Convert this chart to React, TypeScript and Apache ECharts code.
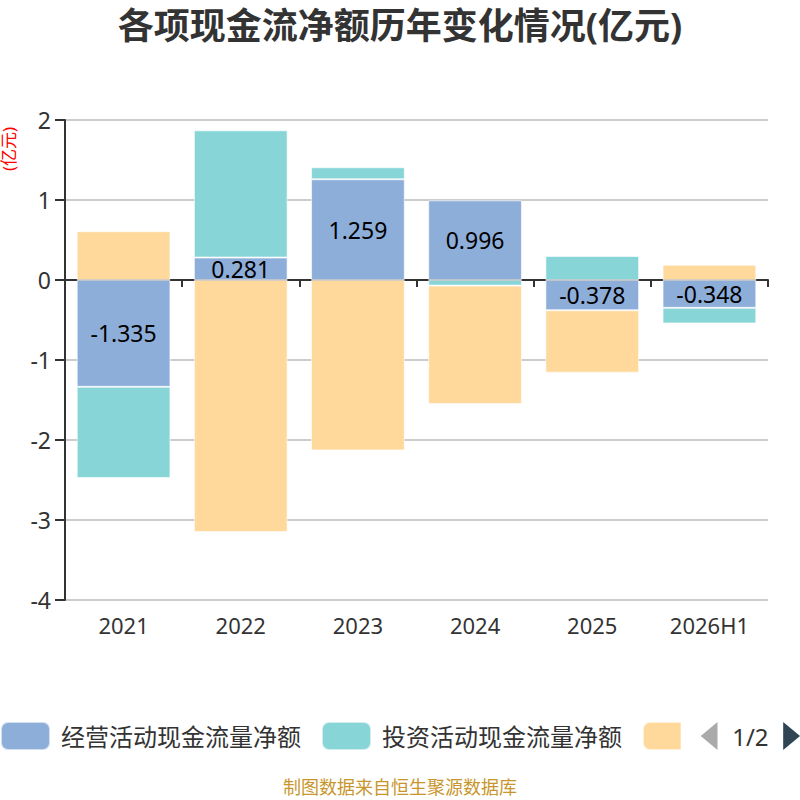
import React, { useEffect, useRef } from "react";
import * as echarts from "echarts";

const categories = ["2021", "2022", "2023", "2024", "2025", "2026H1"];
const seriesNames = ["经营活动现金流量净额", "投资活动现金流量净额", "筹资活动现金流量净额"];
const operating = [-1.335, 0.281, 1.259, 0.996, -0.378, -0.348];
const investing = [-1.14, 1.59, 0.15, -0.07, 0.3, -0.195];
const financing = [0.61, -3.15, -2.13, -1.48, -0.78, 0.19];
const colors = ["#8EAEDA", "#88D5D8", "#FED99B"];

const FONT = "'Noto Sans', 'Noto Sans CJK SC', sans-serif";

export default function App() {
  const ref = useRef<HTMLDivElement>(null);
  useEffect(() => {
    document.body.style.margin = "0";
    if (!ref.current) return;
    const chart = echarts.init(ref.current, undefined, { renderer: "svg" });
    const data = [operating, investing, financing];
    chart.setOption({
      animation: false,
      color: colors,
      textStyle: { fontFamily: FONT },
      title: {
        text: "各项现金流净额历年变化情况(亿元)",
        left: "center",
        top: 2,
        textStyle: { fontSize: 36, fontWeight: "bold", color: "#333", fontFamily: FONT },
      },
      grid: { left: 65, right: 32, top: 120, bottom: 200 },
      legend: {
        type: "scroll",
        top: 721,
        left: 0,
        right: 3,
        padding: 0,
        itemWidth: 49,
        itemHeight: 28,
        itemGap: 20,
        icon: "roundRect",
        textStyle: { fontSize: 24, color: "#333", fontFamily: FONT, padding: [0, 0, 0, 6] },
        pageIconSize: [17, 28],
        pageIconColor: "#2f4554",
        pageIconInactiveColor: "#aaa",
        pageButtonItemGap: 3,
        pageButtonGap: 20,
        pageTextStyle: { fontSize: 24, color: "#333", fontFamily: FONT },
        data: seriesNames,
      },
      xAxis: {
        type: "category",
        data: categories,
        axisLine: { lineStyle: { color: "#333", width: 2 } },
        axisTick: { show: true, length: 7, lineStyle: { color: "#333", width: 2 } },
        axisLabel: { fontSize: 22, color: "#333", margin: 14, fontFamily: FONT },
      },
      yAxis: {
        type: "value",
        min: -4,
        max: 2,
        interval: 1,
        axisLine: { show: true, lineStyle: { color: "#333", width: 2 } },
        axisTick: { show: true, length: 10, lineStyle: { color: "#333", width: 2 } },
        axisLabel: { fontSize: 23, color: "#333", margin: 14, fontFamily: FONT },
        splitLine: { lineStyle: { color: "#ccc", width: 2 } },
      },
      graphic: [
        {
          type: "text",
          x: 0,
          y: 171,
          rotation: Math.PI / 2,
          style: { text: "(亿元)", fontSize: 17, fill: "#ff0000", textAlign: "left", textVerticalAlign: "top", fontFamily: FONT },
        },
        {
          type: "text",
          left: "center",
          top: 778,
          style: { text: "制图数据来自恒生聚源数据库", fontSize: 18, fill: "#C8962D", fontFamily: FONT },
        },
      ],
      series: seriesNames.map((name, i) => ({
        name,
        type: "bar",
        stack: "total",
        barWidth: "80%",
        data: data[i],
        itemStyle: { color: colors[i], borderColor: "rgba(255,255,255,0.6)", borderWidth: 1 },
        label:
          i === 0
            ? { show: true, position: "inside", fontSize: 23, color: "#000", fontFamily: FONT }
            : { show: false },
      })),
    });
    return () => chart.dispose();
  }, []);
  return <div ref={ref} style={{ width: 800, height: 800 }} />;
}
